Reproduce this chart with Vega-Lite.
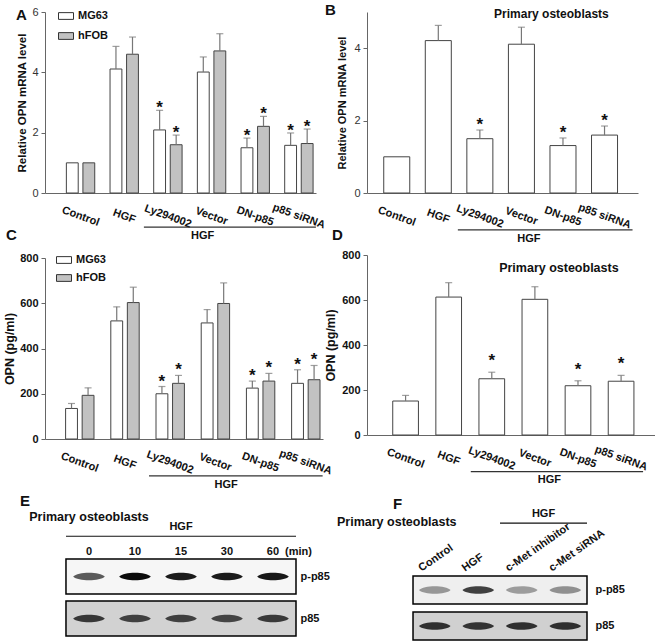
{
 "$schema": "https://vega.github.io/schema/vega-lite/v6.json",
 "background": "white",
 "padding": {"left": 3, "top": 2, "right": 0, "bottom": 0},
 "config": {
  "font": "Liberation Sans",
  "view": {"stroke": null},
  "axis": {"grid": false, "labelFontSize": 11, "labelColor": "#222", "domainColor": "#666", "tickColor": "#666", "titleFontWeight": "bold", "titleColor": "#111"},
  "title": {"fontSize": 15, "fontWeight": "bold", "color": "#111", "anchor": "start", "frame": "group", "baseline": "bottom"}
 },
 "bounds": "full",
 "spacing": -10,
 "resolve": {"scale": {"fill": "independent", "color": "independent"}, "legend": {"fill": "independent", "color": "independent"}},
 "hconcat": [
  {"bounds": "flush", "spacing": 65,
   "resolve": {"scale": {"fill": "independent", "color": "independent"}, "legend": {"fill": "independent", "color": "independent"}},
   "vconcat": [
   {
    "width": 271, "height": 181,
    "title": {"text": "A", "dx": -29, "offset": -7, "dy": 10},
    "data": {"values": [
     {"group": "Control", "series": "MG63", "value": 1.0, "upper": 1.0, "sig": false},
     {"group": "HGF", "series": "MG63", "value": 4.11, "upper": 4.86, "sig": false},
     {"group": "Ly294002", "series": "MG63", "value": 2.09, "upper": 2.74, "sig": true},
     {"group": "Vector", "series": "MG63", "value": 4.01, "upper": 4.51, "sig": false},
     {"group": "DN-p85", "series": "MG63", "value": 1.5, "upper": 1.82, "sig": true},
     {"group": "p85 siRNA", "series": "MG63", "value": 1.58, "upper": 1.99, "sig": true},
     {"group": "Control", "series": "hFOB", "value": 1.0, "upper": 1.0, "sig": false},
     {"group": "HGF", "series": "hFOB", "value": 4.6, "upper": 5.17, "sig": false},
     {"group": "Ly294002", "series": "hFOB", "value": 1.6, "upper": 1.92, "sig": true},
     {"group": "Vector", "series": "hFOB", "value": 4.71, "upper": 5.28, "sig": false},
     {"group": "DN-p85", "series": "hFOB", "value": 2.21, "upper": 2.54, "sig": true},
     {"group": "p85 siRNA", "series": "hFOB", "value": 1.64, "upper": 2.12, "sig": true}
    ]},
    "layer": [
     {"mark": {"type": "bar", "stroke": "#444", "strokeWidth": 1},
      "encoding": {
       "x": {"field": "group", "type": "nominal", "title": null, "scale": {"domain": ["Control", "HGF", "Ly294002", "Vector", "DN-p85", "p85 siRNA"], "paddingInner": 0.35, "paddingOuter": 0.278, "align": 0.88},
             "axis": {"title": null, "ticks": false, "labelAngle": 20, "labelAlign": "center", "labelBaseline": "middle", "labelPadding": 23, "labelFontWeight": "bold", "labelColor": "#111"}},
       "xOffset": {"field": "series", "type": "nominal", "scale": {"domain": ["MG63", "hFOB"], "paddingInner": 0.284}},
       "y": {"field": "value", "type": "quantitative", "title": "Relative OPN mRNA level", "scale": {"domain": [0, 6], "nice": false},
             "axis": {"values": [0, 1, 2, 3, 4, 5, 6], "tickSize": 4, "labelPadding": 3, "titlePadding": 4, "titleFontSize": 11.5, "labelColor": "#333"}},
       "fill": {"field": "series", "type": "nominal", "scale": {"domain": ["MG63", "hFOB"], "range": ["#ffffff", "#c2c2c2"]},
                "legend": {"orient": "none", "legendX": 13, "legendY": -4, "title": null, "symbolType": "M-1,-0.45H1V0.45H-1Z", "symbolSize": 225, "symbolStrokeColor": "#333", "symbolStrokeWidth": 1, "labelFontSize": 11, "labelFontWeight": "bold", "labelColor": "#111", "rowPadding": 6, "labelOffset": 4}}
      }},
     {"transform": [{"filter": "datum.upper > datum.value"}],
      "mark": {"type": "rule", "color": "#777", "strokeWidth": 1.2},
      "encoding": {
       "x": {"field": "group", "type": "nominal", "title": null},
       "xOffset": {"field": "series", "type": "nominal"},
       "y": {"field": "value", "type": "quantitative", "title": "Relative OPN mRNA level"},
       "y2": {"field": "upper"}
      }},
     {"transform": [{"filter": "datum.upper > datum.value"}],
      "mark": {"type": "tick", "orient": "horizontal", "size": 7, "thickness": 1.2, "color": "#777"},
      "encoding": {
       "x": {"field": "group", "type": "nominal", "title": null},
       "xOffset": {"field": "series", "type": "nominal"},
       "y": {"field": "upper", "type": "quantitative", "title": "Relative OPN mRNA level"}
      }},
     {"transform": [{"filter": "datum.sig"}],
      "mark": {"type": "text", "text": "*", "fontSize": 17, "fontWeight": "bold", "dy": 3, "baseline": "alphabetic", "color": "#111"},
      "encoding": {
       "x": {"field": "group", "type": "nominal", "title": null},
       "xOffset": {"field": "series", "type": "nominal"},
       "y": {"field": "upper", "type": "quantitative", "title": "Relative OPN mRNA level"}
      }},
     {"data": {"values": [{"from": "Ly294002", "to": "p85 siRNA", "label": "HGF"}]},
      "mark": {"type": "rule", "color": "#333", "strokeWidth": 1.2, "xOffset": -24, "x2Offset": 17},
      "encoding": {
       "x": {"field": "from", "type": "nominal", "title": null},
       "x2": {"field": "to"},
       "y": {"datum": -1.13}
      }},
     {"data": {"values": [{"at": "Vector", "label": "HGF"}]},
      "mark": {"type": "text", "fontWeight": "bold", "fontSize": 11, "xOffset": -9, "baseline": "middle", "color": "#111"},
      "encoding": {
       "x": {"field": "at", "type": "nominal", "title": null},
       "y": {"datum": -1.43},
       "text": {"field": "label"}
      }}
    ]
   },
   {
    "width": 278, "height": 181,
    "title": {"text": "C", "dx": -39, "offset": 15, "dy": 6},
    "data": {"values": [
     {"group": "Control", "series": "MG63", "value": 135, "upper": 157, "sig": false},
     {"group": "HGF", "series": "MG63", "value": 522, "upper": 584, "sig": false},
     {"group": "Ly294002", "series": "MG63", "value": 200, "upper": 232, "sig": true},
     {"group": "Vector", "series": "MG63", "value": 513, "upper": 572, "sig": false},
     {"group": "DN-p85", "series": "MG63", "value": 225, "upper": 256, "sig": true},
     {"group": "p85 siRNA", "series": "MG63", "value": 246, "upper": 306, "sig": true},
     {"group": "Control", "series": "hFOB", "value": 193, "upper": 226, "sig": false},
     {"group": "HGF", "series": "hFOB", "value": 603, "upper": 671, "sig": false},
     {"group": "Ly294002", "series": "hFOB", "value": 246, "upper": 281, "sig": true},
     {"group": "Vector", "series": "hFOB", "value": 599, "upper": 690, "sig": false},
     {"group": "DN-p85", "series": "hFOB", "value": 256, "upper": 290, "sig": true},
     {"group": "p85 siRNA", "series": "hFOB", "value": 262, "upper": 325, "sig": true}
    ]},
    "layer": [
     {"mark": {"type": "bar", "stroke": "#444", "strokeWidth": 1},
      "encoding": {
       "x": {"field": "group", "type": "nominal", "title": null, "scale": {"domain": ["Control", "HGF", "Ly294002", "Vector", "DN-p85", "p85 siRNA"], "paddingInner": 0.38, "paddingOuter": 0.265, "align": 0.86},
             "axis": {"title": null, "ticks": false, "labelAngle": 20, "labelAlign": "center", "labelBaseline": "middle", "labelPadding": 23, "labelFontWeight": "bold", "labelColor": "#111"}},
       "xOffset": {"field": "series", "type": "nominal", "scale": {"domain": ["MG63", "hFOB"], "paddingInner": 0.284}},
       "y": {"field": "value", "type": "quantitative", "title": "OPN (pg/ml)", "scale": {"domain": [0, 800], "nice": false},
             "axis": {"values": [0, 200, 400, 600, 800], "tickSize": 4, "labelPadding": 3, "titlePadding": 3, "titleFontSize": 12.5, "labelFontWeight": "bold", "labelColor": "#111"}},
       "fill": {"field": "series", "type": "nominal", "scale": {"domain": ["MG63", "hFOB"], "range": ["#ffffff", "#c2c2c2"]},
                "legend": {"orient": "none", "legendX": 11, "legendY": -6, "title": null, "symbolType": "M-1,-0.45H1V0.45H-1Z", "symbolSize": 225, "symbolStrokeColor": "#333", "symbolStrokeWidth": 1, "labelFontSize": 11, "labelFontWeight": "bold", "labelColor": "#111", "rowPadding": 4, "labelOffset": 4}}
      }},
     {"transform": [{"filter": "datum.upper > datum.value"}],
      "mark": {"type": "rule", "color": "#777", "strokeWidth": 1.2},
      "encoding": {
       "x": {"field": "group", "type": "nominal", "title": null},
       "xOffset": {"field": "series", "type": "nominal"},
       "y": {"field": "value", "type": "quantitative", "title": "OPN (pg/ml)"},
       "y2": {"field": "upper"}
      }},
     {"transform": [{"filter": "datum.upper > datum.value"}],
      "mark": {"type": "tick", "orient": "horizontal", "size": 7, "thickness": 1.2, "color": "#777"},
      "encoding": {
       "x": {"field": "group", "type": "nominal", "title": null},
       "xOffset": {"field": "series", "type": "nominal"},
       "y": {"field": "upper", "type": "quantitative", "title": "OPN (pg/ml)"}
      }},
     {"transform": [{"filter": "datum.sig"}],
      "mark": {"type": "text", "text": "*", "fontSize": 17, "fontWeight": "bold", "dy": 0, "baseline": "alphabetic", "color": "#111"},
      "encoding": {
       "x": {"field": "group", "type": "nominal", "title": null},
       "xOffset": {"field": "series", "type": "nominal"},
       "y": {"field": "upper", "type": "quantitative", "title": "OPN (pg/ml)"}
      }},
     {"data": {"values": [{"from": "Ly294002", "to": "p85 siRNA"}]},
      "mark": {"type": "rule", "color": "#333", "strokeWidth": 1.2, "xOffset": -21, "x2Offset": 17},
      "encoding": {
       "x": {"field": "from", "type": "nominal", "title": null},
       "x2": {"field": "to"},
       "y": {"datum": -163}
      }},
     {"data": {"values": [{"at": "Vector", "label": "HGF"}]},
      "mark": {"type": "text", "fontWeight": "bold", "fontSize": 11, "xOffset": 11, "baseline": "middle", "color": "#111"},
      "encoding": {
       "x": {"field": "at", "type": "nominal", "title": null},
       "y": {"datum": -203},
       "text": {"field": "label"}
      }}
    ]
   },
   {
    "width": 251, "height": 132,
    "title": {"text": "E", "dx": -25, "offset": 0, "dy": 5},
    "layer": [
     {"data": {"values": [{"row": "p-p85", "from": "0", "to": "60"}, {"row": "p85", "from": "0", "to": "60"}]},
      "mark": {"type": "rect", "stroke": "#000", "strokeWidth": 1.5},
      "encoding": {
       "x": {"field": "from", "type": "nominal", "bandPosition": 0, "title": "(min)",
             "scale": {"domain": ["0", "10", "15", "30", "60"], "paddingInner": 0, "paddingOuter": 0.228, "align": 1},
             "axis": {"orient": "top", "offset": -54, "domain": false, "ticks": false, "labelAngle": 0, "labelPadding": 2, "labelFontWeight": "bold", "labelColor": "#111", "title": "(min)", "titleX": 253, "titleY": -2, "titleBaseline": "bottom", "titleAlign": "center", "titleFontSize": 11, "titleFontWeight": "bold"}},
       "x2": {"field": "to", "bandPosition": 1},
       "y": {"field": "row", "type": "nominal", "title": null,
             "scale": {"domain": ["HGF", "p-p85", "p85"], "paddingInner": 0.167, "paddingOuter": 0.155, "align": 1},
             "axis": {"orient": "right", "values": ["p-p85", "p85"], "domain": false, "ticks": false, "labelPadding": 4, "labelFontWeight": "bold", "labelColor": "#111", "title": null}},
       "fill": {"field": "row", "type": "nominal", "scale": {"domain": ["p-p85", "p85"], "range": ["#f6f6f6", "#d2d2d2"]}, "legend": null}
      }},
     {"data": {"values": [
       {"lane": "0", "row": "p-p85", "intensity": 0.6},
       {"lane": "10", "row": "p-p85", "intensity": 0.97},
       {"lane": "15", "row": "p-p85", "intensity": 0.9},
       {"lane": "30", "row": "p-p85", "intensity": 0.9},
       {"lane": "60", "row": "p-p85", "intensity": 0.92},
       {"lane": "0", "row": "p85", "intensity": 0.76},
       {"lane": "10", "row": "p85", "intensity": 0.72},
       {"lane": "15", "row": "p85", "intensity": 0.72},
       {"lane": "30", "row": "p85", "intensity": 0.7},
       {"lane": "60", "row": "p85", "intensity": 0.75}
      ]},
      "mark": {"type": "point", "filled": true, "opacity": 1, "size": 1000, "shape": "M-1,0C-0.7,-0.32 0.7,-0.32 1,0C0.7,0.32 -0.7,0.32 -1,0Z"},
      "encoding": {
       "x": {"field": "lane", "type": "nominal", "title": "(min)"},
       "y": {"field": "row", "type": "nominal", "title": null},
       "color": {"field": "intensity", "type": "quantitative", "scale": {"domain": [0, 1], "range": ["#f4f4f4", "#000000"]}, "legend": null}
      }},
     {"data": {"values": [{"row": "HGF", "from": "0", "to": "60"}]},
      "mark": {"type": "rule", "color": "#111", "strokeWidth": 1.2},
      "encoding": {
       "x": {"field": "from", "type": "nominal", "bandPosition": 0, "title": "(min)"},
       "x2": {"field": "to", "bandPosition": 1},
       "y": {"field": "row", "type": "nominal", "bandPosition": 0.55, "title": null}
      }},
     {"data": {"values": [{"row": "HGF", "lane": "15", "label": "HGF"}]},
      "mark": {"type": "text", "fontWeight": "bold", "fontSize": 11, "dy": -9, "baseline": "middle", "color": "#111"},
      "encoding": {
       "x": {"field": "lane", "type": "nominal", "title": "(min)"},
       "y": {"field": "row", "type": "nominal", "bandPosition": 0.55, "title": null},
       "text": {"field": "label"}
      }},
     {"data": {"values": [{"row": "HGF", "lane": "0", "label": "Primary osteoblasts"}]},
      "mark": {"type": "text", "fontWeight": "bold", "fontSize": 12.5, "dy": -19, "baseline": "middle", "color": "#111"},
      "encoding": {
       "x": {"field": "lane", "type": "nominal", "title": "(min)"},
       "y": {"field": "row", "type": "nominal", "bandPosition": 0.55, "title": null},
       "text": {"field": "label"}
      }}
    ]
   }
  ]},
  {"bounds": "flush", "spacing": 62,
   "resolve": {"scale": {"fill": "independent", "color": "independent"}, "legend": {"fill": "independent", "color": "independent"}},
   "vconcat": [
   {
    "width": 271, "height": 181,
    "title": {"text": "B", "dx": -42, "offset": -4, "dy": 6},
    "data": {"values": [
     {"group": "Control", "value": 1.0, "upper": 1.0, "sig": false},
     {"group": "HGF", "value": 4.21, "upper": 4.63, "sig": false},
     {"group": "Ly294002", "value": 1.5, "upper": 1.74, "sig": true},
     {"group": "Vector", "value": 4.11, "upper": 4.58, "sig": false},
     {"group": "DN-p85", "value": 1.31, "upper": 1.52, "sig": true},
     {"group": "p85 siRNA", "value": 1.6, "upper": 1.85, "sig": true}
    ]},
    "layer": [
     {"mark": {"type": "bar", "stroke": "#444", "strokeWidth": 1, "fill": "#ffffff"},
      "encoding": {
       "x": {"field": "group", "type": "nominal", "title": null, "scale": {"domain": ["Control", "HGF", "Ly294002", "Vector", "DN-p85", "p85 siRNA"], "paddingInner": 0.374, "paddingOuter": 0.4475, "align": 0.45},
             "axis": {"title": null, "ticks": false, "labelAngle": 20, "labelAlign": "center", "labelBaseline": "middle", "labelPadding": 23, "labelFontWeight": "bold", "labelColor": "#111"}},
       "y": {"field": "value", "type": "quantitative", "title": "Relative OPN mRNA level", "scale": {"domain": [0, 5], "nice": false},
             "axis": {"values": [0, 1, 2, 3, 4, 5], "tickSize": 4, "labelPadding": 3, "titlePadding": 6, "titleFontSize": 11, "labelColor": "#333"}}
      }},
     {"transform": [{"filter": "datum.upper > datum.value"}],
      "mark": {"type": "rule", "color": "#777", "strokeWidth": 1.2},
      "encoding": {
       "x": {"field": "group", "type": "nominal", "title": null},
       "y": {"field": "value", "type": "quantitative", "title": "Relative OPN mRNA level"},
       "y2": {"field": "upper"}
      }},
     {"transform": [{"filter": "datum.upper > datum.value"}],
      "mark": {"type": "tick", "orient": "horizontal", "size": 7, "thickness": 1.2, "color": "#777"},
      "encoding": {
       "x": {"field": "group", "type": "nominal", "title": null},
       "y": {"field": "upper", "type": "quantitative", "title": "Relative OPN mRNA level"}
      }},
     {"transform": [{"filter": "datum.sig"}],
      "mark": {"type": "text", "text": "*", "fontSize": 17, "fontWeight": "bold", "dy": 0, "baseline": "alphabetic", "color": "#111"},
      "encoding": {
       "x": {"field": "group", "type": "nominal", "title": null},
       "y": {"field": "upper", "type": "quantitative", "title": "Relative OPN mRNA level"}
      }},
     {"data": {"values": [{"at": "Vector", "label": "Primary osteoblasts"}]},
      "mark": {"type": "text", "fontWeight": "bold", "fontSize": 12, "xOffset": 30, "baseline": "middle", "color": "#111"},
      "encoding": {
       "x": {"field": "at", "type": "nominal", "title": null},
       "y": {"datum": 4.95},
       "text": {"field": "label"}
      }},
     {"data": {"values": [{"from": "Ly294002", "to": "p85 siRNA"}]},
      "mark": {"type": "rule", "color": "#333", "strokeWidth": 1.2, "xOffset": -22, "x2Offset": 28},
      "encoding": {
       "x": {"field": "from", "type": "nominal", "title": null},
       "x2": {"field": "to"},
       "y": {"datum": -1.02}
      }},
     {"data": {"values": [{"at": "Vector", "label": "HGF"}]},
      "mark": {"type": "text", "fontWeight": "bold", "fontSize": 11, "xOffset": 7.5, "baseline": "middle", "color": "#111"},
      "encoding": {
       "x": {"field": "at", "type": "nominal", "title": null},
       "y": {"datum": -1.27},
       "text": {"field": "label"}
      }}
    ]
   },
   {
    "width": 288, "height": 180,
    "title": {"text": "D", "dx": -35, "offset": 11, "dy": 5},
    "data": {"values": [
     {"group": "Control", "value": 151, "upper": 176, "sig": false},
     {"group": "HGF", "value": 613, "upper": 677, "sig": false},
     {"group": "Ly294002", "value": 250, "upper": 279, "sig": true},
     {"group": "Vector", "value": 603, "upper": 659, "sig": false},
     {"group": "DN-p85", "value": 219, "upper": 241, "sig": true},
     {"group": "p85 siRNA", "value": 239, "upper": 265, "sig": true}
    ]},
    "layer": [
     {"mark": {"type": "bar", "stroke": "#444", "strokeWidth": 1, "fill": "#ffffff"},
      "encoding": {
       "x": {"field": "group", "type": "nominal", "title": null, "scale": {"domain": ["Control", "HGF", "Ly294002", "Vector", "DN-p85", "p85 siRNA"], "paddingInner": 0.404, "paddingOuter": 0.543, "align": 0.55},
             "axis": {"title": null, "ticks": false, "labelAngle": 20, "labelAlign": "center", "labelBaseline": "middle", "labelPadding": 23, "labelFontWeight": "bold", "labelColor": "#111"}},
       "y": {"field": "value", "type": "quantitative", "title": "OPN (pg/ml)", "scale": {"domain": [0, 800], "nice": false},
             "axis": {"values": [0, 200, 400, 600, 800], "tickSize": 4, "labelPadding": 3, "titlePadding": 4, "titleFontSize": 12.5, "labelFontWeight": "bold", "labelColor": "#111"}}
      }},
     {"transform": [{"filter": "datum.upper > datum.value"}],
      "mark": {"type": "rule", "color": "#777", "strokeWidth": 1.2},
      "encoding": {
       "x": {"field": "group", "type": "nominal", "title": null},
       "y": {"field": "value", "type": "quantitative", "title": "OPN (pg/ml)"},
       "y2": {"field": "upper"}
      }},
     {"transform": [{"filter": "datum.upper > datum.value"}],
      "mark": {"type": "tick", "orient": "horizontal", "size": 7, "thickness": 1.2, "color": "#777"},
      "encoding": {
       "x": {"field": "group", "type": "nominal", "title": null},
       "y": {"field": "upper", "type": "quantitative", "title": "OPN (pg/ml)"}
      }},
     {"transform": [{"filter": "datum.sig"}],
      "mark": {"type": "text", "text": "*", "fontSize": 17, "fontWeight": "bold", "dy": -6, "baseline": "alphabetic", "color": "#111"},
      "encoding": {
       "x": {"field": "group", "type": "nominal", "title": null},
       "y": {"field": "upper", "type": "quantitative", "title": "OPN (pg/ml)"}
      }},
     {"data": {"values": [{"at": "Vector", "label": "Primary osteoblasts"}]},
      "mark": {"type": "text", "fontWeight": "bold", "fontSize": 12.5, "xOffset": 24, "baseline": "middle", "color": "#111"},
      "encoding": {
       "x": {"field": "at", "type": "nominal", "title": null},
       "y": {"datum": 743},
       "text": {"field": "label"}
      }},
     {"data": {"values": [{"from": "Ly294002", "to": "p85 siRNA"}]},
      "mark": {"type": "rule", "color": "#333", "strokeWidth": 1.2, "xOffset": -21, "x2Offset": 22},
      "encoding": {
       "x": {"field": "from", "type": "nominal", "title": null},
       "x2": {"field": "to"},
       "y": {"datum": -163}
      }},
     {"data": {"values": [{"at": "Vector", "label": "HGF"}]},
      "mark": {"type": "text", "fontWeight": "bold", "fontSize": 11, "xOffset": 14.5, "baseline": "middle", "color": "#111"},
      "encoding": {
       "x": {"field": "at", "type": "nominal", "title": null},
       "y": {"datum": -200},
       "text": {"field": "label"}
      }}
    ]
   },
   {
    "width": 220, "height": 143,
    "title": {"text": "F", "dx": 26, "offset": -13, "dy": 2},
    "layer": [
     {"data": {"values": [{"row": "p-p85", "from": "Control", "to": "c-Met siRNA"}, {"row": "p85", "from": "Control", "to": "c-Met siRNA"}]},
      "mark": {"type": "rect", "stroke": "#000", "strokeWidth": 1.5},
      "encoding": {
       "x": {"field": "from", "type": "nominal", "bandPosition": 0, "title": null,
             "scale": {"domain": ["Control", "HGF", "c-Met inhibitor", "c-Met siRNA"], "paddingInner": 0, "paddingOuter": 0.529, "align": 1},
             "axis": {"orient": "top", "offset": -79, "domain": false, "ticks": false, "labelAngle": -35, "labelAlign": "left", "labelBaseline": "bottom", "labelPadding": 3, "labelOffset": -12, "labelFontWeight": "bold", "labelColor": "#111", "title": null}},
       "x2": {"field": "to", "bandPosition": 1},
       "y": {"field": "row", "type": "nominal", "title": null,
             "scale": {"domain": ["HGF", "lbl", "p-p85", "p85"], "paddingInner": 0.222, "paddingOuter": 0.097, "align": 1},
             "axis": {"orient": "right", "values": ["p-p85", "p85"], "domain": false, "ticks": false, "labelPadding": 8, "labelFontWeight": "bold", "labelColor": "#111", "title": null}},
       "fill": {"field": "row", "type": "nominal", "scale": {"domain": ["p-p85", "p85"], "range": ["#efefef", "#d0d0d0"]}, "legend": null}
      }},
     {"data": {"values": [
       {"lane": "Control", "row": "p-p85", "intensity": 0.35},
       {"lane": "HGF", "row": "p-p85", "intensity": 0.72},
       {"lane": "c-Met inhibitor", "row": "p-p85", "intensity": 0.33},
       {"lane": "c-Met siRNA", "row": "p-p85", "intensity": 0.38},
       {"lane": "Control", "row": "p85", "intensity": 0.8},
       {"lane": "HGF", "row": "p85", "intensity": 0.78},
       {"lane": "c-Met inhibitor", "row": "p85", "intensity": 0.8},
       {"lane": "c-Met siRNA", "row": "p85", "intensity": 0.8}
      ]},
      "mark": {"type": "point", "filled": true, "opacity": 1, "size": 1000, "shape": "M-1,0C-0.7,-0.32 0.7,-0.32 1,0C0.7,0.32 -0.7,0.32 -1,0Z"},
      "encoding": {
       "x": {"field": "lane", "type": "nominal", "title": null},
       "y": {"field": "row", "type": "nominal", "title": null},
       "color": {"field": "intensity", "type": "quantitative", "scale": {"domain": [0, 1], "range": ["#f4f4f4", "#000000"]}, "legend": null}
      }},
     {"data": {"values": [{"row": "HGF", "from": "c-Met inhibitor", "to": "c-Met siRNA"}]},
      "mark": {"type": "rule", "color": "#111", "strokeWidth": 1.2},
      "encoding": {
       "x": {"field": "from", "type": "nominal", "bandPosition": 0, "title": null},
       "x2": {"field": "to", "bandPosition": 1},
       "y": {"field": "row", "type": "nominal", "bandPosition": 0.68, "title": null}
      }},
     {"data": {"values": [{"row": "HGF", "lane": "c-Met inhibitor", "label": "HGF"}]},
      "mark": {"type": "text", "fontWeight": "bold", "fontSize": 11, "dy": -9, "baseline": "middle", "color": "#111"},
      "encoding": {
       "x": {"field": "lane", "type": "nominal", "bandPosition": 1, "title": null},
       "y": {"field": "row", "type": "nominal", "bandPosition": 0.68, "title": null},
       "text": {"field": "label"}
      }},
     {"data": {"values": [{"row": "HGF", "lane": "HGF", "label": "Primary osteoblasts"}]},
      "mark": {"type": "text", "fontWeight": "bold", "fontSize": 12.5, "dy": -1, "align": "right", "baseline": "middle", "color": "#111"},
      "encoding": {
       "x": {"field": "lane", "type": "nominal", "bandPosition": 0, "title": null},
       "y": {"field": "row", "type": "nominal", "bandPosition": 0.68, "title": null},
       "text": {"field": "label"}
      }}
    ]
   }
  ]}
 ]
}
